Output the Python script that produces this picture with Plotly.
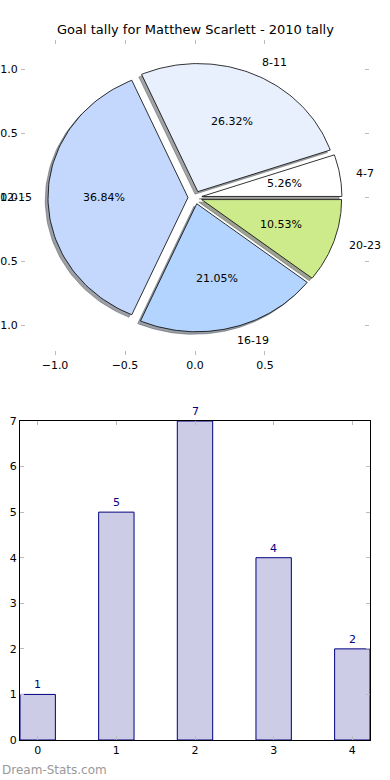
import numpy as np
import plotly.graph_objects as go

# ---- data ----
pie_labels = ["4-7", "8-11", "12-15", "16-19", "20-23"]
pie_values = [1, 5, 7, 4, 2]
pie_colors = ["#ffffff", "#e8f0fe", "#c4d8fe", "#b3d4ff", "#cdeb8b"]
pie_explode = [0.05, 0.05, 0.05, 0.05, 0.05]

bar_x = [0, 1, 2, 3, 4]
bar_values = [1, 5, 7, 4, 2]

title_text = "Goal tally for Matthew Scarlett - 2010 tally"
pie_xticks = [-1.0, -0.5, 0.0, 0.5]
pie_yticks = [-1.0, -0.5, 0.0, 0.5, 1.0]
bar_yticks = [0, 1, 2, 3, 4, 5, 6, 7]

FONT = "DejaVu Sans"
fig = go.Figure()

total = float(sum(pie_values))
fracs = [v / total for v in pie_values]

def hex_to_rgb(h):
    h = h.lstrip("#")
    return tuple(int(h[i:i + 2], 16) for i in (0, 2, 4))

# wedges
theta = 0.0
wedges = []
for lab, frac, col, ex in zip(pie_labels, fracs, pie_colors, pie_explode):
    t1 = theta
    t2 = theta + 360.0 * frac
    mid = np.deg2rad((t1 + t2) / 2)
    cx, cy = ex * np.cos(mid), ex * np.sin(mid)
    ang = np.deg2rad(np.linspace(t1, t2, 80))
    xs = np.concatenate([[cx], cx + np.cos(ang), [cx]])
    ys = np.concatenate([[cy], cy + np.sin(ang), [cy]])
    wedges.append((lab, frac, col, xs, ys, cx, cy, mid))
    theta = t2

# shadows
for lab, frac, col, xs, ys, cx, cy, mid in wedges:
    r, g, b = hex_to_rgb(col)
    sc = "rgba(%d,%d,%d,0.5)" % (r * 0.3, g * 0.3, b * 0.3)
    fig.add_trace(go.Scatter(x=xs - 0.02, y=ys - 0.02, mode="lines", fill="toself",
                             fillcolor=sc, line=dict(color=sc, width=0.8),
                             hoverinfo="skip", showlegend=False, xaxis="x", yaxis="y"))
for lab, frac, col, xs, ys, cx, cy, mid in wedges:
    fig.add_trace(go.Scatter(x=xs, y=ys, mode="lines", fill="toself",
                             fillcolor=col, line=dict(color="#000000", width=0.8),
                             hoverinfo="skip", showlegend=False, xaxis="x", yaxis="y"))

annotations = []
for lab, frac, col, xs, ys, cx, cy, mid in wedges:
    lx = cx + 1.1 * np.cos(mid)
    ly = cy + 1.1 * np.sin(mid)
    annotations.append(dict(x=lx, y=ly, xref="x", yref="y", text=lab, showarrow=False,
                            xanchor="left" if lx > 0 else "right", yanchor="middle",
                            font=dict(family=FONT, size=11, color="#000000")))
    px = cx + 0.6 * np.cos(mid)
    py = cy + 0.6 * np.sin(mid)
    annotations.append(dict(x=px, y=py, xref="x", yref="y", text="%.2f%%" % (frac * 100),
                            showarrow=False, xanchor="center", yanchor="middle",
                            font=dict(family=FONT, size=11, color="#000000")))

# bars
bar_w = 0.45
fig.add_trace(go.Bar(x=bar_x, y=bar_values, width=bar_w,
                     marker=dict(color="#ccccE6", line=dict(color="#000080", width=1)),
                     hoverinfo="skip", showlegend=False, xaxis="x2", yaxis="y2"))
for xv, yv in zip(bar_x, bar_values):
    annotations.append(dict(x=xv, y=yv, xref="x2", yref="y2", text=str(yv), showarrow=False,
                            xanchor="center", yanchor="bottom", yshift=1,
                            font=dict(family=FONT, size=11, color="#000080")))

annotations.append(dict(x=0.5, y=1 - 30 / 780, xref="paper", yref="paper", text=title_text,
                        showarrow=False, xanchor="center", yanchor="middle",
                        font=dict(family=FONT, size=13, color="#000000")))
annotations.append(dict(x=0, y=1 - 770 / 780, xref="paper", yref="paper", text="Dream-Stats.com",
                        showarrow=False, xanchor="left", yanchor="middle",
                        font=dict(family=FONT, size=12, color="#999999")))

tickfont = dict(family=FONT, size=11, color="#000000")
fig.update_layout(
    width=390, height=780, margin=dict(l=0, r=0, t=0, b=0),
    paper_bgcolor="white", plot_bgcolor="white",
    annotations=annotations,
    xaxis=dict(domain=[21 / 390, 369 / 390], anchor="y", range=[-1.243, 1.243],
               tickvals=pie_xticks, ticktext=["\u22121.0", "\u22120.5", "0.0", "0.5"],
               ticks="inside", ticklen=4, tickcolor="#bbbbbb", tickwidth=1,
               showline=True, linecolor="rgba(0,0,0,0)", mirror="ticks",
               showgrid=False, zeroline=False, tickfont=tickfont, automargin=False),
    yaxis=dict(domain=[1 - 355 / 780, 1 - 40 / 780], anchor="x", range=[-1.23, 1.23],
               tickvals=pie_yticks, ticktext=["\u22121.0", "\u22120.5", "0.0", "0.5", "1.0"],
               ticks="inside", ticklen=4, tickcolor="#bbbbbb", tickwidth=1,
               showline=True, linecolor="rgba(0,0,0,0)", mirror="ticks",
               showgrid=False, zeroline=False, tickfont=tickfont, automargin=False),
    xaxis2=dict(domain=[20 / 390, 370 / 390], anchor="y2",
                range=[-bar_w / 2, 4 + bar_w / 2], tickvals=bar_x,
                ticks="inside", ticklen=4, tickcolor="#bbbbbb", tickwidth=1,
                showline=True, linecolor="#000000", linewidth=1, mirror="ticks",
                showgrid=False, zeroline=False, tickfont=tickfont, automargin=False),
    yaxis2=dict(domain=[1 - 740 / 780, 1 - 421 / 780], anchor="x2", range=[0, 7],
                tickvals=bar_yticks, ticks="inside", ticklen=4, tickcolor="#bbbbbb", tickwidth=1,
                showline=True, linecolor="#000000", linewidth=1, mirror="ticks",
                showgrid=False, zeroline=False, tickfont=tickfont, automargin=False),
)

fig.write_html("out.html", config={"displayModeBar": False},
               post_script="document.body.style.margin='0';document.body.style.overflow='hidden';")
